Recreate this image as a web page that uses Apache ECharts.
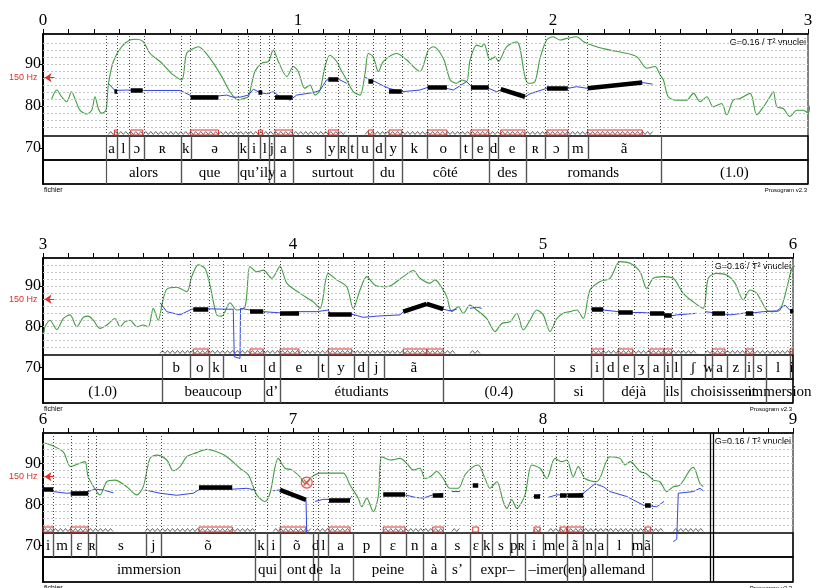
<!DOCTYPE html>
<html>
<head>
<meta charset="UTF-8">
<title>Prosogram</title>
<style>html,body{margin:0;padding:0;background:#fff}#main{width:828px;height:588px}</style>
</head>
<body>
<div id="main"></div>
<script src="https://cdn.jsdelivr.net/npm/echarts@6/dist/echarts.min.js"></script>
<script>
// time ranges of the three strips (s) and semitone ticks
var panelRanges = [[0, 3], [3, 6], [6, 9]];
var yTicks = [70, 80, 90];
var hzRef = 86.75;      // 150 Hz in ST re 1 Hz
var signalEnd = 8.668;  // end of the sound file

// intensity (green), [t, ST]
var intensity = [
  [0.034,81.7],[0.054,83.8],[0.073,82.2],[0.093,81.0],[0.112,83.4],[0.125,81.8],[0.145,79.0],[0.171,78.1],[0.191,79.0],[0.204,82.2],[0.217,79.4],[0.230,78.3],[0.247,79.0],[0.256,85.0],[0.276,90.6],[0.308,94.1],[0.341,95.7],[0.367,95.9],[0.393,95.3],[0.420,92.5],[0.459,90.6],[0.511,87.4],[0.544,86.2],[0.563,92.5],[0.590,93.7],[0.609,94.1],[0.635,92.9],[0.668,90.2],[0.701,87.0],[0.733,83.4],[0.766,81.4],[0.786,81.8],[0.805,82.2],[0.831,88.2],[0.858,90.2],[0.884,90.6],[0.903,93.3],[0.923,90.6],[0.956,87.0],[0.982,89.4],[1.001,88.2],[1.027,84.2],[1.047,85.0],[1.067,82.6],[1.086,83.8],[1.106,89.4],[1.125,92.1],[1.152,90.6],[1.165,89.0],[1.191,86.2],[1.217,83.4],[1.243,82.6],[1.263,87.8],[1.276,92.5],[1.295,91.7],[1.315,88.2],[1.335,90.6],[1.387,92.5],[1.426,91.0],[1.452,89.4],[1.478,88.2],
  [1.511,93.3],[1.531,94.1],[1.570,91.3],[1.597,86.2],[1.622,85.4],[1.642,86.2],[1.661,85.8],[1.675,91.0],[1.701,94.5],[1.720,94.1],[1.729,94.9],[1.753,91.0],[1.773,91.7],[1.786,90.6],[1.818,94.1],[1.858,95.3],[1.890,87.0],[1.903,85.4],[1.929,85.8],[1.949,91.3],[1.975,95.7],[2.001,96.5],[2.027,95.7],[2.054,96.1],[2.093,96.5],[2.120,95.3],[2.171,94.1],[2.224,93.3],[2.276,92.7],[2.329,91.7],[2.368,89.0],[2.400,89.4],[2.420,87.4],[2.433,86.2],[2.452,82.2],[2.485,81.4],[2.524,81.4],[2.551,83.0],[2.577,81.0],[2.603,82.2],[2.629,79.8],[2.661,80.6],[2.681,77.9],[2.707,81.4],[2.733,81.8],[2.773,83.0],[2.799,77.9],[2.825,79.8],[2.851,82.2],[2.864,83.4],[2.878,79.8],[2.903,79.4],[2.929,77.5],[2.956,79.0],[2.982,79.0],[3.001,78.3],
  [3.008,80.0],[3.028,81.6],[3.055,79.3],[3.081,82.0],[3.108,82.9],[3.135,80.0],[3.161,82.3],[3.181,82.6],[3.201,81.6],[3.228,79.6],[3.255,80.4],[3.288,82.0],[3.308,80.0],[3.328,81.2],[3.348,81.6],[3.375,80.0],[3.401,80.4],[3.421,80.0],[3.441,84.5],[3.461,81.6],[3.477,85.7],[3.495,89.2],[3.535,89.7],[3.575,88.6],[3.595,92.3],[3.621,95.2],[3.648,94.3],[3.668,90.2],[3.695,82.9],[3.715,82.6],[3.748,85.9],[3.775,84.1],[3.808,84.9],[3.828,94.8],[3.855,93.5],[3.881,93.9],[3.915,91.9],[3.948,94.8],[3.975,90.7],[4.028,88.2],[4.081,86.1],[4.108,84.5],[4.141,93.1],[4.175,91.5],[4.215,89.8],[4.241,84.5],[4.268,89.0],[4.295,92.3],[4.328,90.2],[4.375,89.8],[4.441,92.3],[4.481,93.8],
  [4.508,91.9],[4.548,90.7],[4.568,91.5],[4.601,89.0],[4.615,87.4],[4.635,83.7],[4.661,84.9],[4.681,83.3],[4.708,85.3],[4.735,84.1],[4.775,82.0],[4.808,78.8],[4.835,80.8],[4.868,81.2],[4.895,83.3],[4.921,79.2],[4.948,81.6],[4.975,84.1],[5.001,82.9],[5.028,78.8],[5.055,82.0],[5.081,83.3],[5.108,83.7],[5.135,84.1],[5.161,82.0],[5.188,89.0],[5.228,91.1],[5.268,91.9],[5.308,96.0],[5.348,95.6],[5.388,93.5],[5.415,89.4],[5.441,91.9],[5.481,92.3],[5.521,91.9],[5.561,88.2],[5.601,86.1],[5.641,84.5],[5.661,91.9],[5.695,93.1],[5.735,92.7],[5.768,90.7],[5.801,86.6],[5.828,89.0],[5.855,88.2],[5.895,84.1],[5.921,83.7],[5.948,84.1],[5.975,89.4],[5.995,94.3],
  [6.008,94.9],[6.041,94.2],[6.081,92.8],[6.111,89.2],[6.148,90.0],[6.168,90.4],[6.181,86.7],[6.215,83.1],[6.228,82.3],[6.255,85.5],[6.288,85.9],[6.335,84.3],[6.375,82.3],[6.401,84.3],[6.428,91.2],[6.455,92.0],[6.495,90.8],[6.521,88.2],[6.548,89.2],[6.575,91.6],[6.615,92.6],[6.655,93.4],[6.695,92.8],[6.735,91.6],[6.788,88.8],[6.821,87.2],[6.841,84.3],[6.855,82.3],[6.888,80.7],[6.908,82.7],[6.941,91.2],[6.968,88.8],[6.995,88.4],[7.028,86.7],[7.048,85.1],[7.075,86.7],[7.108,87.6],[7.148,87.6],[7.201,87.6],[7.228,84.7],[7.261,81.5],[7.275,79.4],[7.295,81.5],[7.321,78.2],[7.341,81.9],[7.355,91.6],[7.388,90.8],[7.428,91.2],[7.455,90.0],[7.481,88.4],[7.508,88.8],
  [7.528,86.3],[7.548,86.7],[7.575,88.0],[7.601,86.3],[7.628,83.9],[7.661,83.9],[7.688,87.2],[7.721,89.2],[7.741,89.6],[7.768,86.3],[7.788,83.9],[7.815,85.5],[7.841,80.7],[7.855,79.0],[7.875,81.1],[7.895,79.0],[7.928,82.3],[7.955,89.6],[7.988,88.8],[8.015,86.3],[8.048,91.2],[8.075,90.4],[8.095,90.8],[8.121,86.7],[8.141,89.2],[8.168,86.3],[8.215,85.5],[8.268,91.6],[8.308,91.2],[8.328,89.6],[8.348,90.4],[8.388,88.0],[8.415,87.4],[8.441,85.9],[8.468,85.5],[8.495,83.1],[8.521,84.3],[8.548,84.7],[8.588,88.4],[8.601,89.0],[8.628,85.1],[8.641,84.3]
];

// F0 (blue), voiced stretches, [t, ST]
var f0Segments = [
  [[0.256,85.4],[0.282,83.7],[0.328,83.8],[0.393,83.7],[0.537,83.7],[0.583,82.4],[0.688,82.4],[0.720,82.6],[0.746,82.1],[0.773,82.1],[0.805,82.6],[0.825,84.0],[0.851,83.2],[0.877,82.9],[0.903,83.4],[0.929,82.2],[0.969,81.4],[0.995,82.6],[1.060,83.2],[1.086,83.7],[1.112,86.2],[1.158,86.4],[1.191,85.4]],
  [[1.263,86.8],[1.295,86.0],[1.335,84.8],[1.357,84.2],[1.407,83.4],[1.478,83.8],[1.507,84.4],[1.583,84.2],[1.609,83.8],[1.635,84.8],[1.661,85.8],[1.681,84.6],[1.748,84.2],[1.779,83.4],[1.795,83.8],[1.890,82.2],[1.910,82.9],[1.975,84.2],[2.058,84.2],[2.093,84.6],[2.136,84.2],[2.350,85.6],[2.391,85.2]],
  [[3.468,85.9],[3.495,83.7],[3.548,82.9],[3.595,84.3],[3.661,84.4],[3.735,84.3],[3.761,84.3],[3.765,72.6],[3.788,72.2],[3.790,84.5],[3.828,84.1],[3.881,83.7],[3.948,83.4],[4.028,83.7],[4.095,83.7],[4.141,84.1],[4.150,83.0],[4.241,83.0],[4.281,82.3],[4.335,82.6],[4.428,82.9],[4.441,83.7],[4.535,85.6],[4.601,84.3],[4.628,83.9],[4.655,84.3]],
  [[4.708,84.5],[4.735,84.8],[4.755,84.5]],
  [[5.192,84.5],[5.241,84.1],[5.301,83.7],[5.359,83.5],[5.401,83.5],[5.428,83.3],[5.515,82.7],[5.535,82.9],[5.615,83.3]],
  [[5.648,83.7],[5.728,83.1],[5.748,82.9],[5.801,83.3],[5.841,83.4],[5.881,83.7],[5.935,83.9],[5.968,85.3],[5.988,84.0],[6.000,83.8],[6.041,83.1],[6.095,82.7],[6.181,83.1],[6.208,83.7],[6.241,83.5],[6.281,82.8]],
  [[6.408,83.5],[6.468,82.7],[6.535,82.2],[6.601,82.7],[6.628,83.7],[6.761,83.7],[6.815,83.9],[6.848,83.5]],
  [[6.921,83.3],[6.948,83.5],[7.052,81.1],[7.055,72.9],[7.075,72.8]],
  [[7.088,80.7],[7.121,81.2],[7.228,81.2],[7.235,82.0]],
  [[7.361,82.4],[7.448,82.3],[7.488,81.7],[7.521,81.5],[7.559,82.3],[7.601,82.7]],
  [[7.635,83.1],[7.668,83.1]],
  [[7.961,81.9],[7.991,82.3]],
  [[8.021,81.7],[8.055,82.3],[8.095,82.3],[8.161,82.7],[8.208,85.0],[8.241,84.3],[8.268,83.1],[8.335,81.9],[8.401,79.8],[8.455,79.4],[8.484,80.7]],
  [[8.521,70.9],[8.535,71.5],[8.541,82.7],[8.601,83.1],[8.628,83.9],[8.641,83.3]]
];

// stylized nuclei (black), [t1, ST1, t2, ST2]
var nuclei = [
  [0.280,83.4,0.291,83.4],[0.344,83.7,0.391,83.7],[0.579,82.2,0.688,82.2],[0.845,83.2,0.860,83.2],[0.910,82.1,0.978,82.1],[1.119,86.4,1.158,86.4],[1.276,86.0,1.295,86.0],[1.357,83.5,1.407,83.5],[1.508,84.4,1.584,84.4],[1.678,84.4,1.748,84.4],[1.795,84.0,1.890,82.2],[1.976,84.2,2.058,84.2],[2.136,84.2,2.350,85.6],
  [3.601,84.4,3.661,84.4],[3.828,83.7,3.881,83.7],[3.948,83.4,4.024,83.4],[4.141,83.0,4.235,83.0],[4.441,83.7,4.535,85.6],[4.535,85.6,4.601,84.3],[5.195,84.3,5.241,84.3],[5.301,83.6,5.359,83.6],[5.428,83.3,5.484,83.3],[5.484,82.7,5.515,82.7],[5.677,83.2,5.728,83.2],[5.812,83.4,5.841,83.4],[5.988,83.8,6.041,83.7],
  [6.111,82.8,6.181,82.8],[6.624,84.1,6.757,84.1],[6.948,83.5,7.052,81.1],[7.144,81.1,7.228,81.1],[7.361,82.4,7.448,82.4],[7.559,82.3,7.601,82.3],[7.719,84.6,7.741,84.6],[7.964,82.0,7.988,82.0],[8.068,82.2,8.095,82.2],[8.099,82.2,8.161,82.2],[8.408,79.7,8.431,79.7]
];

// phone tier, [start, end, label]
var phones = [
  [0.247,0.291,'a'],[0.291,0.339,'l'],[0.339,0.396,'ɔ'],[0.396,0.541,'ʀ'],[0.541,0.579,'k'],[0.579,0.766,'ə'],[0.766,0.805,'k'],[0.805,0.851,'i'],[0.851,0.888,'l'],[0.888,0.906,'j'],[0.906,0.979,'a'],[0.979,1.106,'s'],[1.106,1.158,'y'],[1.158,1.197,'ʀ'],[1.197,1.230,'t'],[1.230,1.295,'u'],[1.295,1.341,'d'],[1.341,1.407,'y'],[1.407,1.505,'k'],[1.505,1.635,'o'],[1.635,1.681,'t'],[1.681,1.748,'e'],[1.748,1.786,'d'],[1.786,1.894,'e'],[1.894,1.969,'ʀ'],[1.969,2.058,'ɔ'],[2.058,2.136,'m'],[2.136,2.422,'ã'],
  [3.477,3.588,'b'],[3.588,3.665,'o'],[3.665,3.719,'k'],[3.719,3.884,'u'],[3.884,3.948,'d'],[3.948,4.099,'e'],[4.099,4.139,'t'],[4.139,4.244,'y'],[4.244,4.301,'d'],[4.301,4.365,'j'],[4.365,4.601,'ã'],
  [5.045,5.192,'s'],[5.192,5.241,'i'],[5.241,5.301,'d'],[5.301,5.364,'e'],[5.364,5.421,'ʒ'],[5.421,5.484,'a'],[5.484,5.515,'i'],[5.515,5.551,'l'],[5.551,5.648,'ʃ'],[5.648,5.677,'w'],[5.677,5.735,'a'],[5.735,5.808,'z'],[5.808,5.841,'i'],[5.841,5.892,'s'],[5.892,5.988,'l'],[5.988,6.041,'i'],
  [6.041,6.111,'m'],[6.111,6.181,'ɛ'],[6.181,6.212,'ʀ'],[6.212,6.412,'s'],[6.412,6.471,'j'],[6.471,6.848,'õ'],[6.848,6.895,'k'],[6.895,6.948,'i'],[6.948,7.081,'õ'],[7.081,7.101,'d'],[7.101,7.141,'l'],[7.141,7.239,'a'],[7.239,7.348,'p'],[7.348,7.452,'ɛ'],[7.452,7.521,'n'],[7.521,7.608,'a'],[7.608,7.708,'s'],[7.708,7.755,'ɛ'],[7.755,7.795,'k'],[7.795,7.868,'s'],[7.868,7.897,'p'],[7.897,7.928,'ʀ'],[7.928,8.001,'i'],[8.001,8.052,'m'],[8.052,8.095,'e'],[8.095,8.161,'ã'],[8.161,8.208,'n'],[8.208,8.255,'a'],[8.255,8.355,'l'],[8.355,8.401,'m'],[8.401,8.435,'ã']
];

// word tier, [start, end, label]
var words = [
  [0.247,0.541,'alors'],[0.541,0.766,'que'],[0.766,0.888,'qu’il'],[0.888,0.906,'y'],[0.906,0.979,'a'],[0.979,1.295,'surtout'],[1.295,1.407,'du'],[1.407,1.748,'côté'],[1.748,1.894,'des'],[1.894,2.422,'romands'],[2.422,3.477,'(1.0)'],
  [3.477,3.884,'beaucoup'],[3.884,3.948,'d’'],[3.948,4.601,'étudiants'],[4.601,5.045,'(0.4)'],[5.045,5.241,'si'],[5.241,5.484,'déjà'],[5.484,5.551,'ils'],[5.551,5.892,'choisissent'],[5.892,6.848,'immersion'],
  [6.848,6.948,'qui'],[6.948,7.081,'ont'],[7.081,7.101,'de'],[7.101,7.239,'la'],[7.239,7.521,'peine'],[7.521,7.608,'à'],[7.608,7.708,'s’'],[7.708,7.928,'expr–'],[7.928,8.095,'–imer'],[8.095,8.161,'(en)'],[8.161,8.435,'allemand']
];

// flagged point (red circled x)
var flagged = [[7.055, 85.3]];

// pixel layout of each strip
var layout = [
  {top: 34, bottom: 184, left: 43, right: 808, y90: 64, y80: 106, phoneTop: 136, wordTop: 160},
  {top: 258, bottom: 403, left: 43, right: 793, y90: 286, y80: 326.7, phoneTop: 355, wordTop: 379},
  {top: 433, bottom: 582, left: 43, right: 793, y90: 463.3, y80: 504.3, phoneTop: 533, wordTop: 557}
];

var serif = '"Liberation Serif", "DejaVu Serif", serif';
var sans = '"Liberation Sans", "DejaVu Sans", sans-serif';
var GREEN = '#3f9e3f', BLUE = '#3344e0', RED = '#e0302a';

function clipNucleus(n, a, b) {
  if (n[2] <= a || n[0] >= b) return null;
  var k = (n[3] - n[1]) / (n[2] - n[0]);
  var t1 = Math.max(n[0], a), t2 = Math.min(n[2], b);
  return [[t1, n[1] + k * (t1 - n[0])], [t2, n[1] + k * (t2 - n[0])]];
}

function tierRender(src, range, size) {
  return function (params, api) {
    var item = src[params.dataIndex];
    var a = Math.max(item[0], range[0]), b = Math.min(item[1], range[1]);
    if (b <= a) return;
    var cs = params.coordSys;
    var kids = [];
    [item[0], item[1]].forEach(function (v) {
      if (v > range[0] && v < range[1]) {
        var x = Math.round(api.coord([v, 0])[0]) + 0.5;
        kids.push({type: 'line', shape: {x1: x, y1: cs.y, x2: x, y2: cs.y + cs.height},
          style: {stroke: '#555', lineWidth: 1.2}});
      }
    });
    var xa = api.coord([a, 0])[0], xb = api.coord([b, 0])[0];
    kids.push({type: 'text', style: {text: item[2], x: (xa + xb) / 2, y: cs.y + cs.height / 2 + 1,
      textAlign: 'center', textVerticalAlign: 'middle', fontFamily: serif, fontSize: size, fill: '#000'}});
    return {type: 'group', children: kids};
  };
}

var voiced = f0Segments.map(function (s) { return [s[0][0], s[s.length - 1][0]]; });
var f0Data = [];
f0Segments.forEach(function (s) {
  s.forEach(function (p) { f0Data.push(p); });
  f0Data.push([s[s.length - 1][0], null]);
});

var grids = [], xAxes = [], yAxes = [], series = [], graphics = [];

panelRanges.forEach(function (range, i) {
  var L = layout[i];
  var ppst = (L.y80 - L.y90) / 10;
  function stAt(px) { return 90 - (px - L.y90) / ppst; }
  var yMin = stAt(L.bottom), yMax = stAt(L.top), yTier = stAt(L.phoneTop);
  var w = L.right - L.left;
  var g = grids.length;

  grids.push({left: L.left, top: L.top, width: w, height: L.bottom - L.top, show: true, borderColor: '#000', borderWidth: 1});
  grids.push({left: L.left, top: L.phoneTop - 6, width: w, height: 6});
  grids.push({left: L.left, top: L.phoneTop, width: w, height: L.wordTop - L.phoneTop, show: true, borderColor: '#000', borderWidth: 1.3});
  grids.push({left: L.left, top: L.wordTop, width: w, height: L.bottom - L.wordTop, show: true, borderColor: '#000', borderWidth: 1.3});

  xAxes.push({
    gridIndex: g, type: 'value', position: 'top', min: range[0], max: range[1], interval: 1,
    axisLine: {show: true, onZero: false, lineStyle: {color: '#000', width: 1.5}},
    axisTick: {show: true, length: 5, lineStyle: {color: '#000'}},
    minorTick: {show: true, splitNumber: 10, length: 5, lineStyle: {color: '#000'}},
    axisLabel: {color: '#000', fontFamily: serif, fontSize: 17, margin: 5},
    splitLine: {show: false}, minorSplitLine: {show: false}
  });
  yAxes.push({
    gridIndex: g, type: 'value', min: yMin, max: yMax,
    axisLine: {show: true, onZero: false, lineStyle: {color: '#000', width: 2}},
    axisTick: {show: true, customValues: yTicks, length: 4, lineStyle: {color: '#000'}},
    axisLabel: {customValues: yTicks, color: '#000', fontFamily: serif, fontSize: 16, margin: 2},
    splitLine: {show: false}
  });
  for (var k = 1; k < 4; k++) {
    xAxes.push({gridIndex: g + k, type: 'value', min: range[0], max: range[1], show: false});
    yAxes.push({gridIndex: g + k, type: 'value', min: 0, max: 1, show: false});
  }

  // reference lines
  var ml = [];
  for (var j = 0; j <= 12; j++) {
    ml.push({yAxis: 75 + j * 10 / 6, lineStyle: {type: [2, 2], color: '#c4c4c4', width: 1}});
  }
  var bounds = [];
  phones.forEach(function (p) {
    [p[0], p[1]].forEach(function (v) {
      if (v > range[0] && v < range[1] && bounds.indexOf(v) < 0) bounds.push(v);
    });
  });
  bounds.forEach(function (v) {
    ml.push([{coord: [v, yTier], lineStyle: {type: [1, 2], color: '#444', width: 1}}, {coord: [v, yMax]}]);
  });
  if (signalEnd > range[0] && signalEnd < range[1]) {
    [signalEnd, signalEnd + 0.014].forEach(function (v) {
      ml.push([{coord: [v, yMin], lineStyle: {type: 'solid', color: '#000', width: 1.3}}, {coord: [v, yMax]}]);
    });
  }
  ml.push([{coord: [range[0] + 0.045, hzRef], symbol: 'none', lineStyle: {type: 'solid', color: RED, width: 1}},
           {coord: [range[0] + 0.006, hzRef], symbol: 'arrow', symbolSize: 7}]);

  series.push({
    type: 'line', xAxisIndex: g, yAxisIndex: g, data: intensity, showSymbol: false, smooth: 0.3,
    lineStyle: {color: GREEN, width: 1.1}, clip: true, silent: true, z: 3,
    markLine: {silent: true, symbol: ['none', 'none'], label: {show: false}, animation: false, data: ml},
    markPoint: {silent: true, animation: false, data: [{
      coord: [range[0], hzRef], symbol: 'circle', symbolSize: 1, itemStyle: {color: 'rgba(0,0,0,0)'},
      label: {show: true, formatter: '150 Hz', position: 'left', distance: 5, color: RED, fontSize: 9, fontFamily: sans}
    }]}
  });
  series.push({
    type: 'line', xAxisIndex: g, yAxisIndex: g, data: f0Data, showSymbol: false, connectNulls: false,
    lineStyle: {color: BLUE, width: 1}, clip: true, silent: true, z: 4
  });
  var nuc = [];
  nuclei.forEach(function (n) {
    var c = clipNucleus(n, range[0], range[1]);
    if (c) nuc.push({coords: c});
  });
  series.push({
    type: 'lines', coordinateSystem: 'cartesian2d', xAxisIndex: g, yAxisIndex: g, data: nuc,
    lineStyle: {color: '#000', width: 4.5, opacity: 1, curveness: 0}, silent: true, z: 5
  });
  var fl = flagged.filter(function (p) { return p[0] > range[0] && p[0] < range[1]; });
  if (fl.length) {
    series.push({type: 'scatter', xAxisIndex: g, yAxisIndex: g, data: fl, symbol: 'circle', symbolSize: 11,
      itemStyle: {color: 'rgba(224,48,42,0.12)', borderColor: RED, borderWidth: 1.2}, silent: true, z: 6});
    series.push({type: 'scatter', xAxisIndex: g, yAxisIndex: g, data: fl, symbol: 'path://M0,0L10,10M10,0L0,10', symbolSize: 6,
      itemStyle: {color: 'none', borderColor: RED, borderWidth: 1.2}, silent: true, z: 7});
  }

  // voicing strip and nucleus boxes
  series.push({
    type: 'custom', xAxisIndex: g + 1, yAxisIndex: g + 1, data: voiced, silent: true, z: 4,
    renderItem: function (params, api) {
      var v = voiced[params.dataIndex];
      var a = Math.max(v[0], range[0]), b = Math.min(v[1], range[1]);
      if (b <= a) return;
      var cs = params.coordSys;
      var x1 = api.coord([a, 0])[0], x2 = api.coord([b, 0])[0];
      var pts = [];
      for (var x = x1, n = 0; x <= x2; x += 2.5, n++) pts.push([x, n % 2 ? cs.y + 1.5 : cs.y + 4.5]);
      return {type: 'polyline', shape: {points: pts}, style: {stroke: '#555', lineWidth: 0.9, fill: null}};
    }
  });
  series.push({
    type: 'custom', xAxisIndex: g + 1, yAxisIndex: g + 1, data: nuclei, silent: true, z: 3,
    renderItem: function (params, api) {
      var n = nuclei[params.dataIndex];
      var a = Math.max(n[0], range[0]), b = Math.min(n[2], range[1]);
      if (b <= a) return;
      var cs = params.coordSys;
      var x1 = api.coord([a, 0])[0], x2 = api.coord([b, 0])[0];
      return {type: 'rect', shape: {x: x1, y: cs.y, width: x2 - x1, height: cs.height - 1},
        style: {stroke: RED, fill: null, lineWidth: 1}};
    }
  });

  series.push({type: 'custom', xAxisIndex: g + 2, yAxisIndex: g + 2, data: phones, silent: true,
    renderItem: tierRender(phones, range, 15)});
  series.push({type: 'custom', xAxisIndex: g + 3, yAxisIndex: g + 3, data: words, silent: true,
    renderItem: tierRender(words, range, 15)});

  graphics.push({type: 'text', x: L.right - 2, y: L.top + 4, silent: true,
    style: {text: 'G=0.16 / T² vnuclei', textAlign: 'right', textVerticalAlign: 'top', font: '9px ' + sans, fill: '#000'}});
  graphics.push({type: 'text', x: L.right - 1, y: L.bottom + 3, silent: true,
    style: {text: 'Prosogram v2.3', textAlign: 'right', textVerticalAlign: 'top', font: '6px ' + sans, fill: '#000'}});
  graphics.push({type: 'text', x: L.left + 1, y: L.bottom + 3, silent: true,
    style: {text: 'fichier', textAlign: 'left', textVerticalAlign: 'top', font: '7px ' + sans, fill: '#000'}});
});

var chart = echarts.init(document.getElementById('main'));
chart.setOption({
  animation: false,
  backgroundColor: '#fff',
  grid: grids,
  xAxis: xAxes,
  yAxis: yAxes,
  series: series,
  graphic: graphics
});
</script>
</body>
</html>
